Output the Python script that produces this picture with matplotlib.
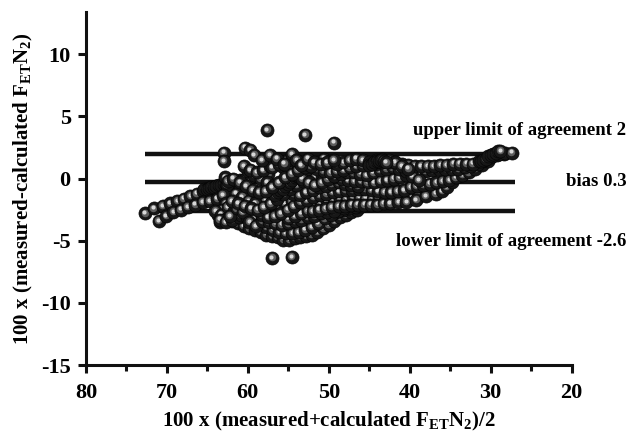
import matplotlib
matplotlib.use('Agg')
import matplotlib.pyplot as plt
from matplotlib.transforms import offset_copy
from matplotlib.ticker import MultipleLocator

plt.rcParams['font.family'] = ['Liberation Serif', 'DejaVu Serif']
plt.rcParams['font.weight'] = 'bold'
plt.rcParams['axes.unicode_minus'] = False
plt.rcParams['mathtext.fontset'] = 'custom'
plt.rcParams['mathtext.rm'] = 'Liberation Serif:bold'
plt.rcParams['mathtext.it'] = 'Liberation Serif:bold'
plt.rcParams['mathtext.bf'] = 'Liberation Serif:bold'

# ---------------- data ----------------
c1_x = [72.7, 71.6, 70.5, 69.6, 68.7, 67.9, 67.1, 66.3, 65.5, 64.7, 63.9, 63.1, 62.4, 61.7, 61.0, 60.3, 59.6, 58.9, 58.2, 57.5]
c1_y = [-2.8, -2.4, -2.2, -2.0, -1.8, -1.6, -1.4, -1.2, -1.0, -0.8, -0.6, -0.5, -0.4, -0.2, -0.1, 0.0, 0.1, 0.2, 0.3, 0.4]

c2_x = [71.0, 70.1, 69.2, 68.3, 67.4, 66.5, 65.6, 64.7, 63.8, 62.9, 62.0, 61.1, 60.2, 59.3]
c2_y = [-3.4, -3.0, -2.7, -2.5, -2.3, -2.1, -1.9, -1.8, -1.6, -1.5, -1.4, -1.2, -1.1, -1.0]

c3_x = [64.0, 63.3, 62.6, 61.9, 61.2, 60.5, 59.8, 59.1, 58.4, 57.7, 57.0, 56.3, 55.6, 54.9, 54.2, 53.5, 52.8, 52.1, 51.4, 50.7, 50.0, 49.3, 48.6, 47.9, 47.2, 46.5]
c3_y = [-2.6, -2.9, -3.2, -3.4, -3.6, -3.8, -4.0, -4.1, -4.3, -4.5, -4.6, -4.7, -4.9, -4.9, -4.8, -4.7, -4.6, -4.5, -4.3, -4.0, -3.7, -3.4, -3.1, -2.9, -2.7, -2.5]

c4_x = [63.5, 62.7, 61.9, 61.1, 60.3, 59.5, 58.7, 57.9, 57.1, 56.3, 55.5, 54.7, 53.9, 53.1, 52.3, 51.5, 50.7, 49.9, 49.1, 48.3, 47.5, 46.7, 45.9, 45.1, 44.3]
c4_y = [-3.3, -3.5, -3.3, -3.1, -3.0, -3.2, -3.4, -3.6, -3.8, -4.0, -4.1, -4.0, -3.8, -3.6, -3.4, -3.2, -3.0, -2.8, -2.7, -2.5, -2.4, -2.3, -2.2, -2.1, -2.0]

c5_x = [62.5, 61.8, 61.0, 60.2, 59.4, 58.6, 57.8, 57.0, 56.2, 55.4, 54.6, 53.8, 53.0, 52.2, 51.4, 50.6, 49.8, 49.0, 48.2, 47.4, 46.6, 45.8, 45.0, 44.2, 43.4, 42.6, 41.8, 41.0, 40.2, 39.4, 38.6, 37.8, 37.0, 36.2, 35.4, 34.6, 33.8, 33.0, 32.2, 31.4, 30.6, 29.8, 29.0, 28.2, 27.4]
c5_y = [-0.2, 0.0, -0.3, -0.6, -0.9, -1.1, -1.0, -0.7, -0.3, 0.1, 0.4, 0.7, 0.9, 1.0, 0.8, 0.6, 0.5, 0.6, 0.7, 0.9, 1.0, 1.1, 1.2, 1.2, 1.3, 1.3, 1.3, 1.2, 1.1, 1.0, 1.0, 1.0, 1.0, 1.1, 1.1, 1.2, 1.2, 1.2, 1.2, 1.4, 1.6, 1.8, 2.0, 2.1, 2.1]

c6_x = [62.0, 61.2, 60.4, 59.6, 58.8, 58.0, 57.2, 56.4, 55.6, 54.8, 54.0, 53.2, 52.4, 51.6, 50.8, 50.0, 49.2, 48.4, 47.6, 46.8, 46.0, 45.2, 44.4, 43.6, 42.8, 42.0, 41.2, 40.4, 39.6, 38.8, 38.0, 37.2, 36.4, 35.6, 34.8, 34.0, 33.2, 32.4, 31.6, 30.8, 30.0, 29.2, 28.4]
c6_y = [-1.8, -2.0, -2.2, -2.4, -2.5, -2.3, -2.0, -1.6, -1.2, -0.8, -0.5, -0.2, 0.0, 0.2, 0.3, 0.2, 0.1, 0.0, -0.1, -0.2, -0.2, -0.3, -0.3, -0.2, -0.1, 0.0, 0.1, 0.3, 0.4, 0.5, 0.6, 0.7, 0.8, 0.8, 0.8, 0.8, 0.9, 1.0, 1.2, 1.5, 1.7, 1.9, 2.0]

c7_x = [61.5, 60.7, 59.9, 59.1, 58.3, 57.5, 56.7, 55.9, 55.1, 54.3, 53.5, 52.7, 51.9, 51.1, 50.3, 49.5, 48.7, 47.9, 47.1, 46.3, 45.5, 44.7, 43.9, 43.1, 42.3, 41.5, 40.7, 39.9, 39.1, 38.3, 37.5, 36.7, 35.9, 35.1, 34.3, 33.5, 32.7, 31.9, 31.1, 30.3]
c7_y = [-1.2, -1.5, -1.8, -2.0, -2.9, -3.1, -3.0, -2.8, -2.5, -2.2, -1.9, -1.7, -1.5, -1.3, -1.2, -1.1, -1.0, -0.9, -0.9, -0.8, -0.8, -0.9, -1.0, -1.1, -1.1, -1.0, -0.9, -0.7, -0.6, -0.5, -0.4, -0.3, -0.2, -0.1, 0.1, 0.3, 0.5, 0.8, 1.1, 1.4]

c8_x = [52.0, 51.2, 50.4, 49.6, 48.8, 48.0, 47.2, 46.4, 45.6, 44.8, 44.0, 43.2, 42.4, 41.4, 40.4, 39.2, 38.0, 36.8, 36.0, 35.4, 34.8, 34.2, 33.6]
c8_y = [-2.6, -2.5, -2.4, -2.3, -2.2, -2.2, -2.1, -2.1, -2.1, -2.1, -2.1, -2.0, -2.0, -1.9, -1.9, -1.7, -1.4, -1.2, -1.0, -0.7, -0.3, 0.1, 0.3]

c11_x = [62.5, 61.7, 60.9, 60.1, 59.3, 58.5, 57.7, 56.9, 56.1, 55.3, 54.5, 53.7, 52.9, 52.1, 51.3, 50.5, 49.7, 48.9, 48.1]
c11_y = [-2.3, -2.6, -2.9, -3.1, -3.3, -3.6, -3.9, -4.1, -4.3, -4.4, -4.4, -4.3, -4.1, -3.9, -3.6, -3.2, -2.9, -2.6, -2.4]

c12_x = [62.8, 62.6, 63.1, 62.7, 63.2, 62.9, 63.7, 63.4]
c12_y = [0.1, -0.5, -1.3, -2.0, -2.5, -3.1, -2.9, -3.5]

c13_x = [57.0, 56.2, 55.4, 54.6, 53.8, 53.0, 52.2, 51.4, 50.6, 49.8, 49.0, 48.2, 47.4, 46.6, 45.8, 45.0, 44.2, 43.4, 42.6, 41.8, 41.0, 40.2]
c13_y = [0.9, 1.2, 1.4, 1.5, 1.4, 1.2, 1.0, 1.3, 1.6, 1.4, 1.2, 1.3, 1.5, 1.6, 1.5, 1.3, 1.5, 1.6, 1.5, 1.3, 1.0, 0.8]

c14_x = [55.0, 54.2, 53.4, 52.6, 51.8, 51.0, 50.2, 49.4, 48.6, 47.8, 47.0, 46.2, 45.4, 44.6, 43.8, 43.0, 42.2, 41.4, 40.6, 39.8, 39.0]
c14_y = [-3.2, -3.0, -2.8, -2.6, -2.3, -2.0, -1.8, -1.7, -1.6, -1.6, -1.5, -1.5, -1.6, -1.6, -1.5, -1.4, -1.4, -1.5, -1.6, -1.6, -1.5]

c15_x = [60.0, 59.2, 58.4, 57.6, 56.8, 56.0, 55.2, 54.4, 53.6, 52.8, 52.0, 51.2, 50.4, 49.6, 48.8, 48.0, 47.2, 46.4]
c15_y = [0.6, 0.3, 0.0, -0.3, -0.5, -0.7, -1.0, -1.2, -1.3, -1.1, -0.9, -0.7, -0.6, -0.4, -0.3, -0.4, -0.5, -0.6]

c16_x = [61.0, 60.2, 59.4, 58.6, 57.8, 57.0, 56.2, 55.4, 54.6, 53.8, 53.0, 52.2, 51.4, 50.6, 49.8, 49.0, 48.2, 47.4, 46.6, 45.8, 45.0, 44.2, 43.4, 42.6, 41.8, 41.0]
c16_y = [-0.8, -1.0, -1.3, -1.6, -1.8, -1.9, -2.1, -2.0, -1.8, -1.6, -1.4, -1.1, -0.9, -0.8, -0.7, -0.6, -0.6, -0.5, -0.4, -0.4, -0.5, -0.6, -0.6, -0.5, -0.4, -0.3]

c17_x = [60.5, 59.7, 58.9, 58.1, 57.3, 56.5, 55.7, 54.9, 54.1, 53.3, 52.5, 51.7, 50.9, 50.1, 49.3, 48.5, 47.7, 46.9, 46.1, 45.3, 44.5, 43.7, 42.9, 42.1, 41.3, 40.5, 39.7, 38.9]
c17_y = [1.0, 0.7, 0.5, 0.7, 1.0, 1.2, 0.9, 0.6, 0.3, 0.0, -0.3, -0.5, -0.3, 0.0, 0.2, 0.4, 0.5, 0.5, 0.4, 0.3, 0.5, 0.7, 0.8, 0.9, 0.8, 0.6, 0.2, -0.1]

c18_x = [62.2, 61.4, 60.6, 59.8, 59.0, 58.2, 57.4, 56.6, 55.8, 55.0, 54.2, 53.4, 52.6, 51.8, 51.0, 50.2, 49.4]
c18_y = [-3.0, -2.4, -2.7, -3.5, -3.8, -3.4, -3.5, -3.6, -3.7, -3.6, -3.4, -3.3, -3.1, -3.0, -2.8, -2.7, -2.6]

top_x = [63.0, 63.0, 60.4, 59.7, 59.2, 58.3, 57.3, 56.4, 55.5, 54.6, 54.0, 53.4, 52.6, 51.8, 51.0, 50.2, 49.4]
top_y = [2.1, 1.4, 2.5, 2.3, 1.9, 1.5, 1.9, 1.6, 1.2, 2.0, 1.5, 1.1, 1.6, 1.3, 1.2, 1.3, 1.5]

w1_x = [65.4, 65.1, 64.8, 64.5, 64.2, 63.9, 63.6, 63.3, 63.0, 62.7, 62.4, 62.1, 61.8]
w1_y = [-0.85, -0.8, -0.75, -0.7, -0.65, -0.6, -0.55, -0.5, -0.45, -0.4, -0.35, -0.3, -0.25]
w2_x = [56.6, 56.3, 56.0, 55.7, 55.4, 55.1, 54.8, 54.5, 54.2, 53.9, 53.6, 53.3, 53.0, 52.7, 52.4, 52.1, 51.8]
w2_y = [-1.3, -1.1, -0.9, -0.8, -0.6, -0.4, -0.3, -0.1, 0.1, 0.2, 0.4, 0.5, 0.7, 0.8, 1.0, 1.1, 1.2]
w3_x = [31.2, 30.9, 30.6, 30.3, 30.0, 29.7, 29.4, 29.1, 28.8]
w3_y = [1.4, 1.5, 1.6, 1.8, 1.9, 2.0, 2.1, 2.2, 2.2]
w4_x = [45.0, 44.7, 44.4, 44.1, 43.8, 43.5, 43.2, 42.9]
w4_y = [1.1, 1.2, 1.3, 1.4, 1.45, 1.5, 1.4, 1.3]

out_x = [57.6, 52.9, 49.4, 57.0, 54.6]
out_y = [3.9, 3.5, 2.9, -6.4, -6.3]

limit_levels = [2.0, -0.3, -2.6]
limit_labels = ['upper limit of agreement 2', 'bias 0.3', 'lower limit of agreement -2.6']
line_x_start = 72.7
line_x_end = 27.0

x_ticks = [80, 70, 60, 50, 40, 30, 20]
y_ticks = [-15, -10, -5, 0, 5, 10]

chains = [(c1_x, c1_y), (w1_x, w1_y), (c2_x, c2_y), (c12_x, c12_y), (c3_x, c3_y), (c4_x, c4_y),
          (c11_x, c11_y), (c18_x, c18_y), (c14_x, c14_y), (c8_x, c8_y), (c16_x, c16_y),
          (c7_x, c7_y), (c15_x, c15_y), (c6_x, c6_y), (w2_x, w2_y), (c17_x, c17_y),
          (c5_x, c5_y), (c13_x, c13_y), (w4_x, w4_y),
          (top_x, top_y), (w3_x, w3_y), (out_x, out_y)]

# ---------------- figure ----------------
fig = plt.figure(figsize=(6.34, 4.32), dpi=100)
ax = fig.add_axes([0.1356, 0.155, 0.766, 0.817])
ax.set_xlim(80, 20)
ax.set_ylim(-15, 13.4)

ax.hlines(limit_levels, line_x_start, line_x_end, colors='#111111', lw=3.2, zorder=1)

t_mid = offset_copy(ax.transData, fig=fig, x=-0.4, y=0.6, units='points')
t_hi = offset_copy(ax.transData, fig=fig, x=-0.6, y=0.9, units='points')

z = 2.0
for xs, ys in chains:
    for xv, yv in zip(xs, ys):
        ax.plot([xv], [yv], 'o', ms=9.4, mfc='#171717', mec='#050505', mew=0.5, zorder=z)
        ax.plot([xv], [yv], 'o', ms=5.4, mfc='#5e5e5e', mec='none', transform=t_mid, zorder=z + 0.0001)
        ax.plot([xv], [yv], 'o', ms=3.0, mfc='#d8d8d8', mec='none', transform=t_hi, zorder=z + 0.0002)
        z += 0.001

for s in ['top', 'right']:
    ax.spines[s].set_visible(False)
for s in ['left', 'bottom']:
    ax.spines[s].set_linewidth(2.2)
    ax.spines[s].set_color('#111111')

ax.set_xticks(x_ticks)
ax.set_yticks(y_ticks)
ax.xaxis.set_minor_locator(MultipleLocator(5))
ax.tick_params(axis='both', which='major', direction='out', length=6, width=2.2, labelsize=16, color='#111111', pad=5)
ax.tick_params(axis='x', which='major', pad=7)
ax.tick_params(axis='x', which='minor', direction='out', length=4, width=2.2, color='#111111')
for lab in ax.get_xticklabels() + ax.get_yticklabels():
    lab.set_fontweight('bold')

ax.set_xlabel('100 x (measured+calculated F$_{\\mathrm{ET}}$N$_{\\mathrm{2}}$)/2', fontsize=15, fontweight='bold', labelpad=5)
ax.set_ylabel('100 x (measured-calculated F$_{\\mathrm{ET}}$N$_{\\mathrm{2}}$)', fontsize=15, fontweight='bold', labelpad=4)

label_fig_y = [0.699, 0.579, 0.440]
for txt, fy in zip(limit_labels, label_fig_y):
    fig.text(0.988, fy, txt, ha='right', va='center', fontsize=13.5, fontweight='bold')

fig.savefig('out.png', dpi=100)
